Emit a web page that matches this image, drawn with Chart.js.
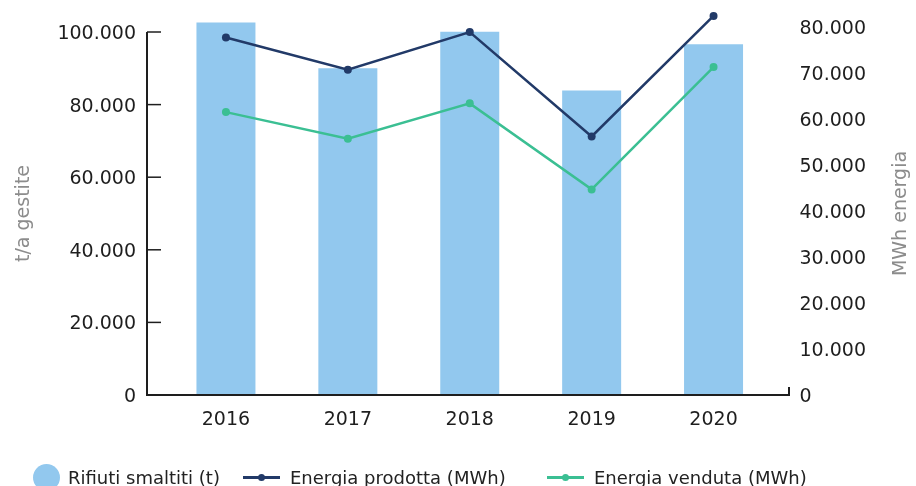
<!DOCTYPE html>
<html>
<head>
<meta charset="utf-8">
<title>Rifiuti smaltiti ed energia</title>
<script src="https://cdn.jsdelivr.net/npm/chart.js"></script>
<style>
  body { margin: 0; background: #fff; }
  #wrap { position: relative; width: 916px; height: 486px; overflow: hidden; }
  #legend { position: absolute; left: 0; top: 463px; width: 916px; height: 28px;
            font-family: "DejaVu Sans", sans-serif; font-size: 18px; color: #222; }
  .item { position: absolute; top: 0; height: 28px; display: flex; align-items: center; white-space: nowrap; }
  .dot { width: 27px; height: 27px; border-radius: 50%; margin-right: 8px; }
  .lineIcon { position: relative; width: 37px; height: 28px; margin-right: 10px; }
  .lineIcon span { position: absolute; left: 0; right: 0; top: 13px; height: 2.5px; }
  .lineIcon i { position: absolute; left: 15px; top: 11px; width: 7px; height: 7px; border-radius: 50%; }
</style>
</head>
<body>
<div id="wrap">
  <canvas id="myChart" width="916" height="486"></canvas>
  <div id="legend"></div>
</div>
<script>
    var anni = ['2016', '2017', '2018', '2019', '2020'];
    var rifiuti = [102600, 90000, 100100, 83900, 96600];
    var energiaProdotta = [77700, 70700, 78900, 56200, 82400];
    var energiaVenduta = [61500, 55700, 63400, 44700, 71300];
    var tickSinistra = [0, 20000, 40000, 60000, 80000, 100000];
    var tickDestra = [0, 10000, 20000, 30000, 40000, 50000, 60000, 70000, 80000];

    var blu = '#92c8ee';
    var navy = '#223a68';
    var verde = '#3bbf93';
    var nero = '#1e1e1e';
    var grigio = '#8c8c8c';
    var font = '"DejaVu Sans", sans-serif';

    function fmt(v) {
        return String(v).replace(/\B(?=(\d{3})+(?!\d))/g, '.');
    }

    function noPad(s) { s.paddingTop = 0; s.paddingBottom = 0; }

    // left axis line with inner ticks, baseline, axis titles
    var decor = {
        id: 'decor',
        afterDatasetsDraw: function (chart) {
            var ctx = chart.ctx, a = chart.chartArea, y = chart.scales.y;
            var ax = a.left - 18, bx = a.right + 14.5;
            var y0 = y.getPixelForValue(0), yTop = y.getPixelForValue(100000);
            ctx.save();
            ctx.strokeStyle = nero;
            ctx.lineWidth = 2;
            ctx.beginPath();
            ctx.moveTo(ax, yTop);
            ctx.lineTo(ax, y0);
            ctx.lineTo(bx, y0);
            ctx.lineTo(bx, y0 - 8);
            ctx.stroke();
            ctx.lineWidth = 1.5;
            tickSinistra.forEach(function (v) {
                var p = y.getPixelForValue(v);
                ctx.beginPath();
                ctx.moveTo(ax, p);
                ctx.lineTo(ax + 14, p);
                ctx.stroke();
            });
            ctx.fillStyle = grigio;
            ctx.font = '19px ' + font;
            ctx.textAlign = 'center';
            ctx.textBaseline = 'middle';
            [['t/a gestite', 24.5], ['MWh energia', 901]].forEach(function (t) {
                ctx.save();
                ctx.translate(t[1], (yTop + y0) / 2);
                ctx.rotate(-Math.PI / 2);
                ctx.fillText(t[0], 0, 0);
                ctx.restore();
            });
            ctx.restore();
        }
    };

    var ctx = document.getElementById('myChart').getContext('2d');
    var chart = new Chart(ctx, {
        data: {
            labels: anni,
            datasets: [{
                type: 'line',
                label: 'Energia prodotta (MWh)',
                data: energiaProdotta,
                yAxisID: 'y1',
                borderColor: navy,
                backgroundColor: navy,
                borderWidth: 2.5,
                pointRadius: 4,
                pointBorderWidth: 0,
                pointBackgroundColor: navy,
                tension: 0,
                order: 1
            }, {
                type: 'line',
                label: 'Energia venduta (MWh)',
                data: energiaVenduta,
                yAxisID: 'y1',
                borderColor: verde,
                backgroundColor: verde,
                borderWidth: 2.5,
                pointRadius: 4,
                pointBorderWidth: 0,
                pointBackgroundColor: verde,
                tension: 0,
                order: 1
            }, {
                type: 'bar',
                label: 'Rifiuti smaltiti (t)',
                data: rifiuti,
                yAxisID: 'y',
                backgroundColor: blu,
                borderWidth: 0,
                barPercentage: 0.484,
                categoryPercentage: 1,
                order: 2
            }]
        },
        options: {
            responsive: false,
            animation: false,
            devicePixelRatio: 1,
            layout: { padding: { top: 10, left: 0, right: 0, bottom: 0 } },
            plugins: { legend: { display: false }, tooltip: { enabled: false } },
            scales: {
                x: {
                    type: 'category',
                    offset: true,
                    grid: { display: false, drawTicks: false },
                    border: { display: false },
                    ticks: { color: nero, padding: 14, font: { family: font, size: 19 } },
                    afterFit: function (s) { s.height = 91; }
                },
                y: {
                    type: 'linear',
                    position: 'left',
                    min: 0,
                    max: 106061,
                    grid: { display: false, drawTicks: false },
                    border: { display: false },
                    ticks: {
                        padding: 29,
                        labelOffset: 2,
                        color: nero,
                        font: { family: font, size: 19 },
                        callback: function (v) { return fmt(v); }
                    },
                    afterBuildTicks: function (s) {
                        s.ticks = tickSinistra.map(function (v) { return { value: v }; });
                    },
                    afterFit: function (s) { s.width = 165; noPad(s); }
                },
                y1: {
                    type: 'linear',
                    position: 'right',
                    min: 0,
                    max: 83696,
                    grid: { display: false, drawTicks: false },
                    border: { display: false },
                    ticks: {
                        padding: 25,
                        labelOffset: 2,
                        color: nero,
                        font: { family: font, size: 19 },
                        callback: function (v) { return fmt(v); }
                    },
                    afterBuildTicks: function (s) {
                        s.ticks = tickDestra.map(function (v) { return { value: v }; });
                    },
                    afterFit: function (s) { s.width = 141.5; noPad(s); }
                }
            }
        },
        plugins: [decor]
    });

    // legend built from the datasets
    var legendPos = { 'Rifiuti smaltiti (t)': 33, 'Energia prodotta (MWh)': 243, 'Energia venduta (MWh)': 547 };
    var legend = document.getElementById('legend');
    ['Rifiuti smaltiti (t)', 'Energia prodotta (MWh)', 'Energia venduta (MWh)'].forEach(function (name) {
        var ds = chart.data.datasets.find(function (d) { return d.label === name; });
        var item = document.createElement('div');
        item.className = 'item';
        item.style.left = legendPos[name] + 'px';
        var icon = document.createElement('div');
        if (ds.type === 'bar') {
            icon.className = 'dot';
            icon.style.background = ds.backgroundColor;
        } else {
            icon.className = 'lineIcon';
            icon.innerHTML = '<span style="background:' + ds.borderColor + '"></span><i style="background:' + ds.borderColor + '"></i>';
        }
        var txt = document.createElement('span');
        txt.textContent = ds.label;
        item.appendChild(icon);
        item.appendChild(txt);
        legend.appendChild(item);
    });
</script>
</body>
</html>
